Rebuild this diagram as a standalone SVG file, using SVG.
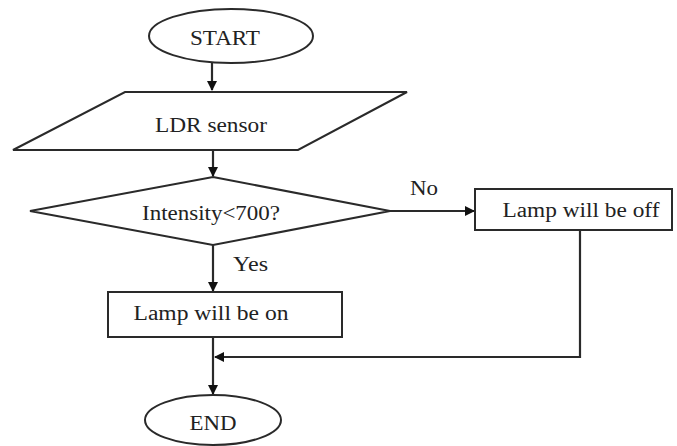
<svg xmlns="http://www.w3.org/2000/svg" width="677" height="446" viewBox="0 0 677 446" font-family="Liberation Serif, DejaVu Serif, serif">
<style>
.s{fill:#fff;stroke:#2a2a2a;stroke-width:2}
text{font-family:"Liberation Serif",serif;font-size:20px;fill:#222}
.c{fill:none;stroke:#2a2a2a;stroke-width:2.2}
</style>
<defs>
<marker id="a" markerWidth="10" markerHeight="10" refX="9" refY="5" orient="auto" markerUnits="userSpaceOnUse">
<path d="M0,0 L10,5 L0,10 Z" fill="#111"/>
</marker>
</defs>
<rect width="677" height="446" fill="#fff"/>
<g id="connectors">
<line class="c" x1="212" y1="63" x2="212" y2="90" marker-end="url(#a)"/>
<line class="c" x1="213" y1="150" x2="213" y2="176" marker-end="url(#a)"/>
<line class="c" x1="390" y1="211" x2="474" y2="211" marker-end="url(#a)"/>
<line class="c" x1="213" y1="245" x2="213" y2="291" marker-end="url(#a)"/>
<polyline class="c" points="580,230 580,357 215,357" marker-end="url(#a)"/>
<line class="c" x1="213" y1="337" x2="213" y2="394" marker-end="url(#a)"/>
<text x="410" y="195" font-family="Liberation Serif" textLength="28" lengthAdjust="spacingAndGlyphs">No</text>
<text x="233" y="271" font-family="Liberation Serif" textLength="35" lengthAdjust="spacingAndGlyphs">Yes</text>
</g>
<g id="start">
<ellipse class="s" cx="231" cy="36" rx="82" ry="27"/>
<text x="225" y="45" font-family="Liberation Serif" text-anchor="middle" textLength="70" lengthAdjust="spacingAndGlyphs">START</text>
</g>
<g id="ldr">
<polygon class="s" points="125,92 407,92 298,150 13,150"/>
<text x="211" y="132" font-family="Liberation Serif" text-anchor="middle" textLength="112" lengthAdjust="spacingAndGlyphs">LDR sensor</text>
</g>
<g id="decision">
<polygon class="s" points="213,177 390,211 213,245 30,211"/>
<text x="211" y="220" font-family="Liberation Serif" text-anchor="middle" textLength="138" lengthAdjust="spacingAndGlyphs">Intensity&lt;700?</text>
</g>
<g id="off">
<rect class="s" x="475" y="189" width="197" height="41"/>
<text x="581" y="217" font-family="Liberation Serif" text-anchor="middle" textLength="157" lengthAdjust="spacingAndGlyphs">Lamp will be off</text>
</g>
<g id="on">
<rect class="s" x="108" y="292" width="234" height="45"/>
<text x="211" y="320" font-family="Liberation Serif" text-anchor="middle" textLength="155" lengthAdjust="spacingAndGlyphs">Lamp will be on</text>
</g>
<g id="end">
<ellipse class="s" cx="213" cy="420" rx="68" ry="25"/>
<text x="213" y="430" font-family="Liberation Serif" text-anchor="middle" textLength="47" lengthAdjust="spacingAndGlyphs">END</text>
</g>
</svg>
